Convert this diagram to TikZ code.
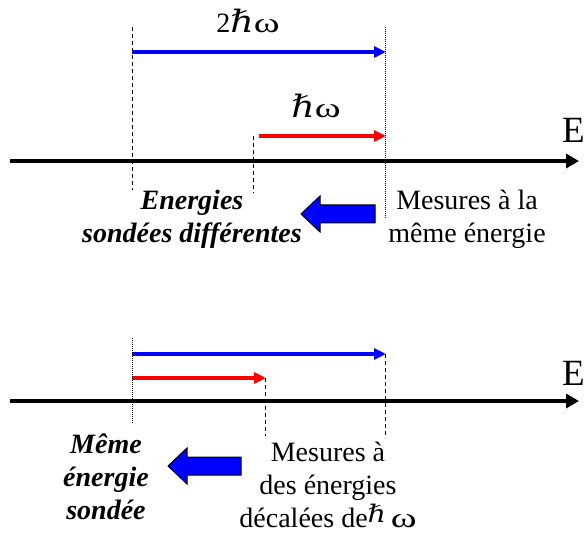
\documentclass[tikz,border=0pt]{standalone}
\usepackage{graphicx}
\usepackage{fontspec}
\setmainfont{Liberation Serif}
\newfontfamily\planckfont{DejaVu Serif}
\newcommand{\hb}{\scalebox{1.3}[1.1]{\planckfont ℏ}}
\newcommand{\om}{\scalebox{1.4}[1]{ω}}
\usetikzlibrary{arrows.meta}

\begin{document}
\begin{tikzpicture}[x=1pt, y=-1pt,
    axis/.style={-{Triangle[length=13pt, width=14pt]}, line width=4.5pt},
    gap/.style={-{Triangle[length=12pt, width=11pt]}, line width=3.2pt},
    guide/.style={line width=0.8pt, dash pattern=on 4pt off 3pt},
    dotguide/.style={line width=0.6pt, dash pattern=on 1pt off 1pt},
    fat/.style={draw=black, fill=blue, line width=1pt, line join=miter},
    lbl/.style={font=\fontsize{28}{33}\selectfont, anchor=base, inner sep=0pt},
    elbl/.style={font=\fontsize{37}{40}\selectfont, anchor=base west, inner sep=0pt},
    sonde/.style={font=\fontsize{28}{33}\selectfont\bfseries\itshape, align=center, anchor=base, inner sep=0pt},
    mesure/.style={font=\fontsize{28}{33}\selectfont, align=center, anchor=base, inner sep=0pt}]
    \useasboundingbox (0,0) rectangle (585,534);

    % top: energies sondees differentes
    \coordinate (ta0) at (10,161);
    \coordinate (ta1) at (579,161);
    \draw[axis] (ta0) -- (ta1);
    \node[elbl] (tE) at (562,143) {E};
    \coordinate (tb0) at (132,52);
    \coordinate (tb1) at (386,52);
    \draw[gap, blue] (tb0) -- (tb1);
    \node[lbl] (t2hw) at (248,33) {2\hb\om};
    \coordinate (tr0) at (259,136);
    \coordinate (tr1) at (386,136);
    \draw[gap, red] (tr0) -- (tr1);
    \node[lbl] (thw) at (316,118) {\hb\om};
    \coordinate (tg0) at (132,27);
    \coordinate (tg1) at (132,190);
    \draw[guide] (tg0) -- (tg1);
    \coordinate (th0) at (253,136);
    \coordinate (th1) at (253,193);
    \draw[guide] (th0) -- (th1);
    \coordinate (tm0) at (385,27);
    \coordinate (tm1) at (385,218);
    \draw[dotguide] (tm0) -- (tm1);
    \draw[fat] (375,205) -- (320,205) -- (320,196) -- (301,214) -- (320,232) -- (320,223) -- (375,223) -- cycle;
    \node[sonde] (tsonde) at (192,243) {Energies\\sondées différentes};
    \node[mesure] (tmes) at (467,243) {Mesures à la\\même énergie};

    % bottom: meme energie sondee
    \coordinate (ba0) at (10,401);
    \coordinate (ba1) at (579,401);
    \draw[axis] (ba0) -- (ba1);
    \node[elbl] (bE) at (562,385) {E};
    \coordinate (bb0) at (132,354);
    \coordinate (bb1) at (386,354);
    \draw[gap, blue] (bb0) -- (bb1);
    \coordinate (br0) at (132,378);
    \coordinate (br1) at (266,378);
    \draw[gap, red] (br0) -- (br1);
    \coordinate (bg0) at (132,338);
    \coordinate (bg1) at (132,423);
    \draw[dotguide] (bg0) -- (bg1);
    \coordinate (bh0) at (265,378);
    \coordinate (bh1) at (265,436);
    \draw[guide] (bh0) -- (bh1);
    \coordinate (bm0) at (385,354);
    \coordinate (bm1) at (385,438);
    \draw[guide] (bm0) -- (bm1);
    \draw[fat] (241,457) -- (187,457) -- (187,448) -- (168,466) -- (187,484) -- (187,475) -- (241,475) -- cycle;
    \node[sonde] (bsonde) at (106,519) {Même\\énergie\\sondée};
    \node[mesure] (bmes) at (328,527) {Mesures à\\des énergies\\décalées de\raisebox{5pt}{\fontsize{22}{22}\selectfont\hb}\,\om};
\end{tikzpicture}
\end{document}
